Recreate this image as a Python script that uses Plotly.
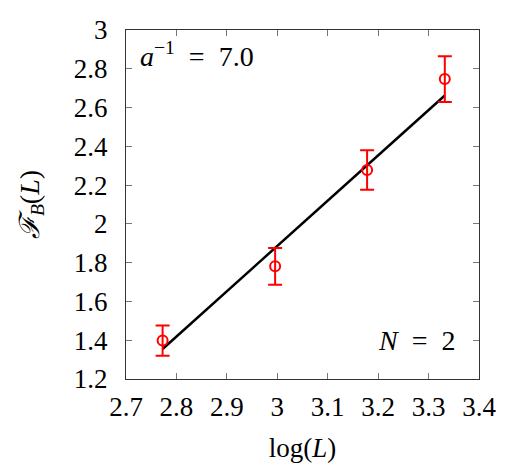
import plotly.graph_objects as go

# data
log_L = [2.7726, 2.9957, 3.1781, 3.3322]
F_B = [1.398, 1.781, 2.278, 2.747]
F_B_err = [0.078, 0.095, 0.102, 0.118]
fit_x = [2.7726, 3.3322]
fit_y = [1.355, 2.662]
x_ticks = [2.7, 2.8, 2.9, 3.0, 3.1, 3.2, 3.3, 3.4]
x_ticktext = ["2.7", "2.8", "2.9", "3", "3.1", "3.2", "3.3", "3.4"]
y_ticks = [1.2, 1.4, 1.6, 1.8, 2.0, 2.2, 2.4, 2.6, 2.8, 3.0]
y_ticktext = ["1.2", "1.4", "1.6", "1.8", "2", "2.2", "2.4", "2.6", "2.8", "3"]

FONT = "'Liberation Serif', 'Times New Roman', 'DejaVu Serif', serif"
RED = "#ff0000"

fig = go.Figure()
fig.add_trace(go.Scatter(
    x=fit_x, y=fit_y, mode="lines",
    line=dict(color="black", width=2.5), showlegend=False, hoverinfo="skip"))
fig.add_trace(go.Scatter(
    x=log_L, y=F_B, mode="markers",
    marker=dict(symbol="circle-open", size=10, color=RED, line=dict(width=2, color=RED)),
    error_y=dict(type="data", array=F_B_err, visible=True, color=RED, thickness=2, width=7),
    showlegend=False))

axis_common = dict(
    showgrid=False, zeroline=False, showline=True, linecolor="#333333", linewidth=1,
    mirror="allticks", ticks="inside", ticklen=6, tickcolor="#777777", tickwidth=1,
    tickfont=dict(family=FONT, size=27, color="black"),
)
fig.update_xaxes(range=[2.7, 3.4], tickvals=x_ticks, ticktext=x_ticktext,
                 title=dict(text="log(<i>L</i>)", font=dict(family=FONT, size=27, color="black"), standoff=16),
                 ticklabelstandoff=4, **axis_common)
fig.update_yaxes(range=[1.2, 3.0], tickvals=y_ticks, ticktext=y_ticktext,
                 title=dict(text="<i>ℱ<sub>B</sub></i>(<i>L</i>)", font=dict(family=FONT, size=28, color="black"), standoff=26),
                 ticklabelstandoff=12, **axis_common)

fig.add_annotation(x=0.035, y=0.985, xref="paper", yref="paper", xanchor="left", yanchor="top",
                   text="<i>a</i><sup>−1</sup>&nbsp;&nbsp;=&nbsp;&nbsp;7.0", showarrow=False,
                   font=dict(family=FONT, size=28, color="black"))
fig.add_annotation(x=0.9386, y=0.11, xref="paper", yref="paper", xanchor="right", yanchor="middle",
                   text="<i>N</i>&nbsp;&nbsp;=&nbsp;&nbsp;2", showarrow=False,
                   font=dict(family=FONT, size=28, color="black"))

fig.update_layout(
    width=532, height=473,
    margin=dict(l=125.5, r=53.3, t=29.5, b=94.3),
    paper_bgcolor="white", plot_bgcolor="white",
    font=dict(family=FONT),
)
fig.write_html("out.html")
